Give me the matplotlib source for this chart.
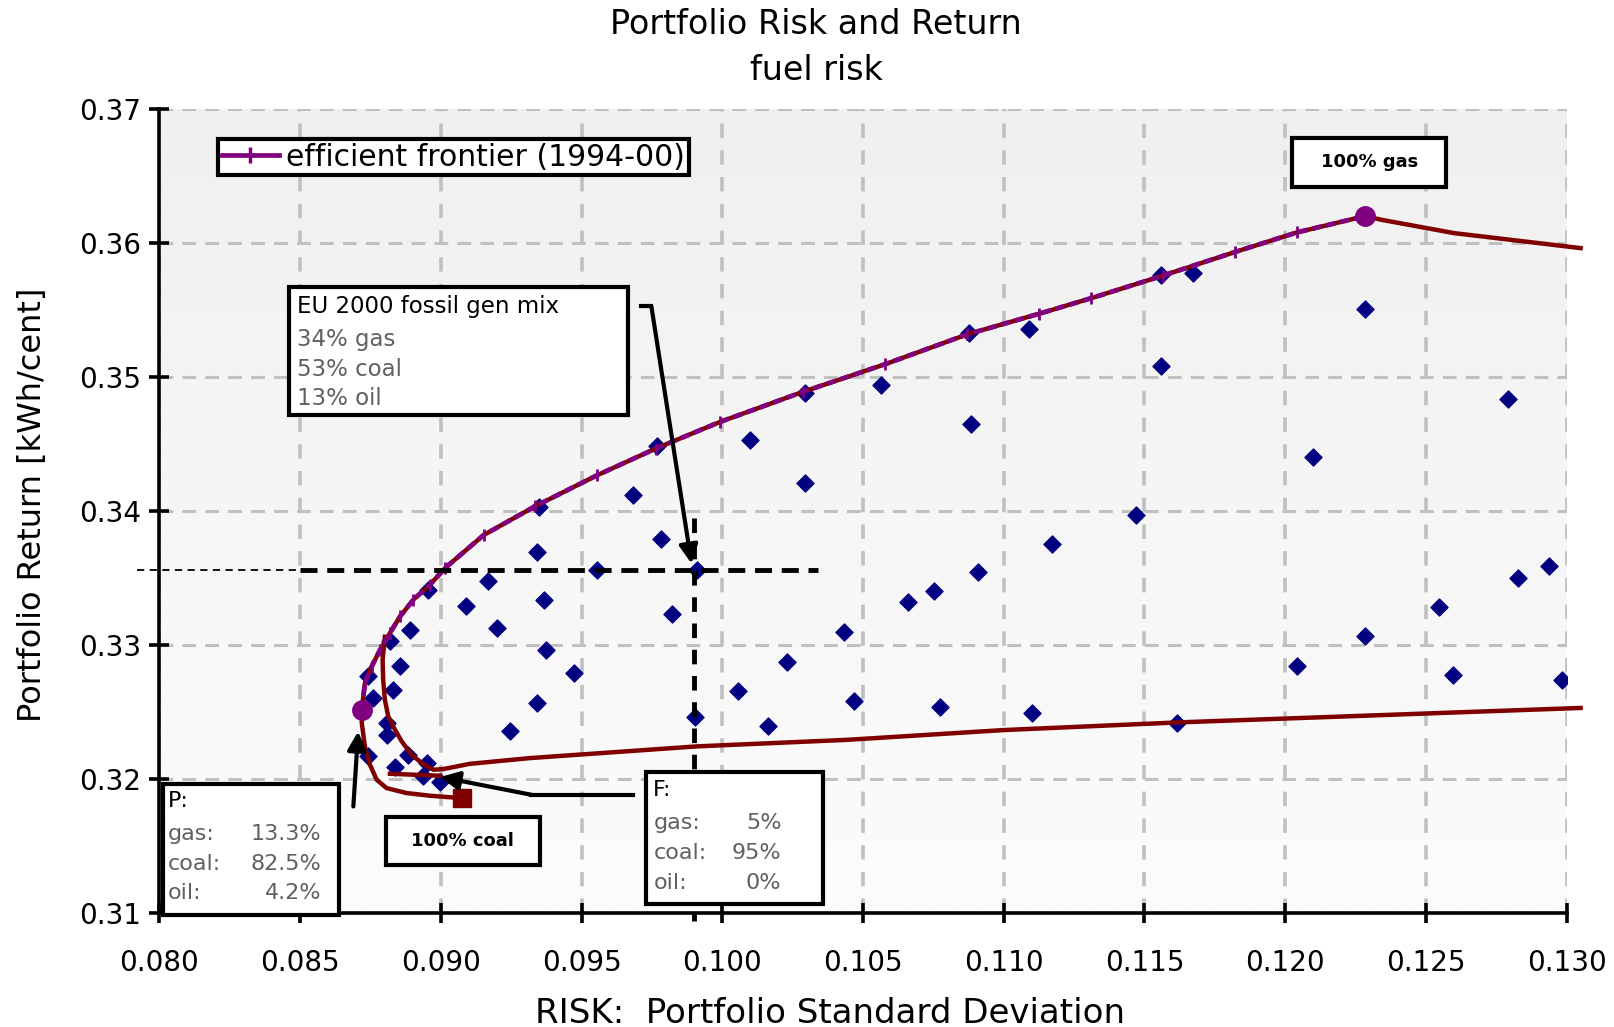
import numpy as np
import matplotlib
matplotlib.use('Agg')
import matplotlib.pyplot as plt
from matplotlib.patches import Rectangle
from matplotlib.lines import Line2D
from matplotlib.colors import LinearSegmentedColormap

# efficient frontier, from P up to 100% gas
frontier_risk = [0.08719, 0.08730, 0.08754, 0.08784, 0.08819, 0.08855, 0.08902, 0.08961,
                 0.09015, 0.09152, 0.09335, 0.09555, 0.09763, 0.09993, 0.10286, 0.10579,
                 0.10871, 0.11127, 0.11310, 0.11566, 0.11822, 0.12042, 0.12284]
frontier_return = [0.32516, 0.32716, 0.32839, 0.32964, 0.33089, 0.33213, 0.33337, 0.33449,
                   0.33574, 0.33820, 0.34035, 0.34266, 0.34465, 0.34665, 0.34888, 0.35095,
                   0.35318, 0.35472, 0.35587, 0.35756, 0.35932, 0.36078, 0.36200]

# gas-coal edge below P (100% coal up to P)
coal_edge_risk = [0.09074, 0.08961, 0.08878, 0.08807, 0.08772, 0.08748, 0.08730, 0.08719]
coal_edge_return = [0.31857, 0.31875, 0.31895, 0.31932, 0.31994, 0.32106, 0.32243, 0.32417]

# gas-oil edge beyond 100% gas
gas_oil_risk = [0.12284, 0.12343, 0.12600, 0.13050]
gas_oil_return = [0.36200, 0.36172, 0.36073, 0.35961]

# inner boundary running into the coal-oil edge
inner_risk = [0.08801, 0.08793, 0.08795, 0.08801, 0.08813, 0.08837, 0.08861, 0.08896,
              0.08932, 0.08973, 0.09009, 0.09103, 0.09317, 0.09908, 0.10443, 0.11000,
              0.11618, 0.13050]
inner_return = [0.33061, 0.32889, 0.32740, 0.32591, 0.32466, 0.32367, 0.32280, 0.32181,
                0.32119, 0.32069, 0.32074, 0.32113, 0.32156, 0.32243, 0.32292, 0.32365,
                0.32422, 0.32530]

short_risk = [0.08819, 0.08997]
short_return = [0.32039, 0.32024]

# individual fuel mixes
mix_risk = [0.09168, 0.09089, 0.09198, 0.08955, 0.08890, 0.08819, 0.08855, 0.08742,
            0.08831, 0.08760, 0.08807, 0.08807, 0.09246, 0.08742, 0.08884, 0.08837,
            0.08949, 0.08937, 0.08997,
            0.12283, 0.12791, 0.12100, 0.11559, 0.11091, 0.10882, 0.10564, 0.10293,
            0.10099, 0.11471, 0.11171, 0.11672, 0.11558, 0.12938, 0.12828, 0.12546,
            0.12042, 0.12283, 0.12598, 0.12985, 0.11102, 0.10772, 0.10469, 0.10432,
            0.10659, 0.10754, 0.10908, 0.11614, 0.10231, 0.10056, 0.10162, 0.09902,
            0.09909, 0.09821, 0.09781, 0.09683, 0.09767, 0.09555, 0.09474, 0.09375,
            0.09368, 0.09342, 0.09342, 0.10875, 0.10293, 0.09347]
mix_return = [0.33474, 0.33292, 0.33126, 0.33412, 0.33113, 0.33026, 0.32845, 0.32765,
              0.32666, 0.32604, 0.32417, 0.32330, 0.32355, 0.32168, 0.32181, 0.32093,
              0.32119, 0.32019, 0.31981,
              0.35510, 0.34834, 0.34404, 0.35080, 0.35356, 0.34650, 0.34942, 0.34212,
              0.34527, 0.33966, 0.33751, 0.35779, 0.35763, 0.33590, 0.33498, 0.33283,
              0.32845, 0.33068, 0.32776, 0.32737, 0.32492, 0.32538, 0.32584, 0.33098,
              0.33321, 0.33406, 0.33544, 0.32415, 0.32876, 0.32660, 0.32399, 0.32461,
              0.33559, 0.33229, 0.33790, 0.34120, 0.34481, 0.33559, 0.32791, 0.32960,
              0.33336, 0.33697, 0.32568, 0.35326, 0.34880, 0.34033]

p_risk, p_return = 0.08719, 0.32516
gas_risk, gas_return = 0.12284, 0.36200
coal_risk, coal_return = 0.09074, 0.31857
eu_risk, eu_return = 0.09898, 0.33559

x_ticks = [0.080, 0.085, 0.090, 0.095, 0.100, 0.105, 0.110, 0.115, 0.120, 0.125, 0.130]
y_ticks = [0.31, 0.32, 0.33, 0.34, 0.35, 0.36, 0.37]

fig = plt.figure(figsize=(16.14, 10.27), dpi=100)
ax = fig.add_axes([0.0988, 0.111, 0.8718, 0.783])

# light gradient behind the plot area
bg = LinearSegmentedColormap.from_list('bg', ['#f0f0f0', '#fcfcfc'])
ax.imshow(np.linspace(0, 1, 256).reshape(-1, 1), extent=[0, 1, 0, 1], transform=ax.transAxes,
          cmap=bg, aspect='auto', zorder=0)

ax.set_xlim(0.080, 0.130)
ax.set_ylim(0.31, 0.37)
ax.set_xticks(x_ticks)
ax.set_yticks(y_ticks)
ax.set_xticklabels(['%.3f' % v for v in x_ticks])
ax.set_yticklabels(['%.2f' % v for v in y_ticks])

ax.set_axisbelow(True)
ax.xaxis.grid(True, color='#c0c0c0', lw=2.6, ls=(0, (4, 3.4)))
ax.yaxis.grid(True, color='#c0c0c0', lw=2.2, ls=(0, (4.5, 3.0)))

for s in ['top', 'right']:
    ax.spines[s].set_visible(False)
for s in ['left', 'bottom']:
    ax.spines[s].set_linewidth(2.6)
ax.tick_params(direction='inout', length=14, width=2.6, labelsize=20)
ax.tick_params(axis='x', pad=19)
ax.tick_params(axis='y', pad=6)

red = '#800000'
purple = '#800080'
navy = '#000080'

# feasible set boundaries
ax.plot(coal_edge_risk + frontier_risk + gas_oil_risk[1:],
        coal_edge_return + frontier_return + gas_oil_return[1:],
        color=red, lw=3.2, zorder=3, clip_on=False)
ax.plot(inner_risk, inner_return, color=red, lw=3.2, zorder=3, clip_on=False)
ax.plot(short_risk, short_return, color=red, lw=3.2, zorder=3)

ax.scatter(mix_risk, mix_return, marker='D', s=75, color=navy, zorder=2)

ax.plot(frontier_risk, frontier_return, color=purple, lw=3.4, ls=(0, (2.0, 1.0)),
        marker='|', ms=8, mew=2, zorder=4)

ax.plot([p_risk, gas_risk], [p_return, gas_return], 'o', color=purple, ms=14, zorder=5)
ax.plot([coal_risk], [coal_return], 's', color=red, ms=13, zorder=5)

handle = Line2D([], [], color=purple, lw=3.4, marker='|', ms=12, mew=2.5)
leg = ax.legend([handle], ['efficient frontier (1994-00)'], loc='upper left',
                bbox_to_anchor=(0.0419, 0.9623), fontsize=21.5,
                handlelength=1.9, handletextpad=0.25, borderpad=0.12, borderaxespad=0,
                fancybox=False, framealpha=1, edgecolor='black')
leg.get_frame().set_linewidth(3)
leg.set_zorder(10)

# dashed guides through the EU 2000 mix
ax.plot([0.0792, 0.0850], [eu_return, eu_return], color='black', lw=1.3,
        ls=(0, (4, 3)), clip_on=False, zorder=6)
ax.plot([0.0850, 0.1034], [eu_return, eu_return], color='black', lw=3.5,
        ls=(0, (3.5, 2)), zorder=6)
ax.plot([eu_risk, eu_risk], [0.3395, 0.3094], color='black', lw=3.5,
        ls=(0, (3, 2.4)), clip_on=False, zorder=6)

# arrows
arrow = dict(arrowstyle='-|>', color='black', lw=3, mutation_scale=28, shrinkA=0, shrinkB=0)
ax.plot([0.09711, 0.09748], [0.35526, 0.35526], color='black', lw=3, zorder=7)
ax.annotate('', xy=(0.09891, 0.33606), xytext=(0.09748, 0.35526), arrowprops=arrow, zorder=7)
ax.plot([0.09683, 0.09322], [0.31882, 0.31882], color='black', lw=3, zorder=7)
ax.annotate('', xy=(0.08998, 0.32015), xytext=(0.09322, 0.31882), arrowprops=arrow, zorder=7)
ax.annotate('', xy=(0.08706, 0.32355), xytext=(0.08689, 0.31795), arrowprops=arrow, zorder=7)


def box(x0, y0, x1, y1):
    ax.add_patch(Rectangle((x0, y0), x1 - x0, y1 - y0, fc='white', ec='black', lw=3,
                           zorder=8, clip_on=False))


gray = '#606060'

box(0.0846, 0.34718, 0.09665, 0.35673)
ax.text(0.08490, 0.35528, 'EU 2000 fossil gen mix', fontsize=16.5, va='center', zorder=9)
for i, line in enumerate(['34% gas', '53% coal', '13% oil']):
    ax.text(0.08490, 0.35280 - i * 0.00222, line, fontsize=16.5, color=gray, va='center',
            zorder=9)

box(0.12025, 0.36417, 0.12573, 0.36782)
ax.text(0.12299, 0.36600, '100% gas', fontsize=13, fontweight='bold', ha='center',
        va='center', zorder=9)

box(0.08805, 0.31355, 0.09352, 0.31716)
ax.text(0.09078, 0.31536, '100% coal', fontsize=13, fontweight='bold', ha='center',
        va='center', zorder=9)

box(0.08011, 0.30987, 0.08637, 0.31962)
ax.text(0.08030, 0.31837, 'P:', fontsize=16, va='center', zorder=9, clip_on=False)
p_rows = [('gas:', '13.3%'), ('coal:', '82.5%'), ('oil:', '4.2%')]
for i, (k, v) in enumerate(p_rows):
    yy = 0.31589 - i * 0.00220
    ax.text(0.08030, yy, k, fontsize=16, color=gray, va='center', zorder=9, clip_on=False)
    ax.text(0.08575, yy, v, fontsize=16, color=gray, va='center', ha='right', zorder=9,
            clip_on=False)

box(0.09729, 0.31069, 0.10357, 0.32051)
ax.text(0.09755, 0.31915, 'F:', fontsize=16, va='center', zorder=9)
f_rows = [('gas:', '5%'), ('coal:', '95%'), ('oil:', '0%')]
for i, (k, v) in enumerate(f_rows):
    yy = 0.31669 - i * 0.00224
    ax.text(0.09755, yy, k, fontsize=16, color=gray, va='center', zorder=9)
    ax.text(0.10210, yy, v, fontsize=16, color=gray, va='center', ha='right', zorder=9)

ax.set_xlabel('RISK:  Portfolio Standard Deviation', fontsize=24.5)
ax.xaxis.set_label_coords(0.4765, -0.1045)
ax.set_ylabel('Portfolio Return [kWh/cent]', fontsize=23)
ax.yaxis.set_label_coords(-0.079, 0.507)

fig.text(0.5056, 0.976, 'Portfolio Risk and Return', fontsize=24, ha='center', va='center')
fig.text(0.5056, 0.9318, 'fuel risk', fontsize=24, ha='center', va='center')

fig.savefig('out.png', dpi=100)
